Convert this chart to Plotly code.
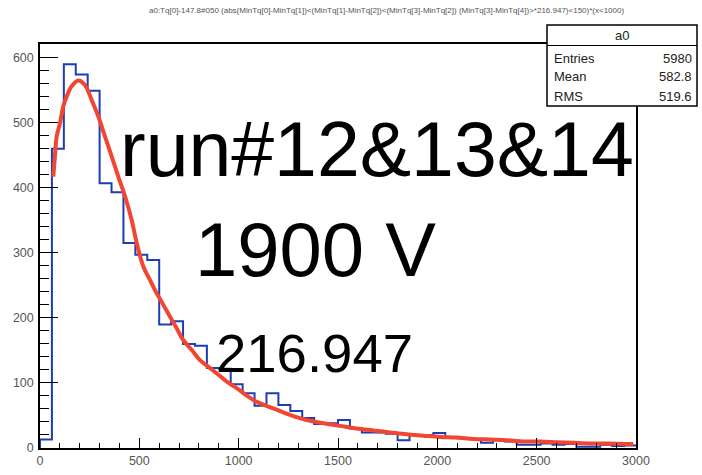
import plotly.graph_objects as go

# ---- data ----
bin_width = 60
bin_counts = [13, 460, 590, 574, 549, 407, 393, 315, 297, 289,
              190, 195, 160, 157, 123, 122, 98, 84, 65, 84,
              66, 57, 46, 37, 38, 43, 30, 24, 24, 22,
              12, 20, 20, 23, 17, 15, 14, 8, 12, 10,
              5, 5, 7, 5, 6, 2, 2, 5, 3, 4]

fit_x = [67, 75, 84, 101, 117, 134, 159, 193, 226, 260, 293, 327, 361, 394, 428,
         461, 487, 520, 554, 587, 621, 654, 688, 721, 763, 805, 847, 889, 940, 990,
         1048, 1091, 1174, 1258, 1342, 1426, 1510, 1594, 1677, 1761, 1845, 1929,
         2013, 2097, 2181, 2265, 2349, 2432, 2516, 2600, 2684, 2768, 2852, 2986]
fit_y = [417, 448, 479, 500, 525, 540, 556, 565, 558, 535, 510, 479, 448, 417, 387,
         351, 315, 279, 258, 238, 220, 202, 184, 166, 151, 135, 125, 115, 102, 92,
         79, 71, 61, 51, 43, 38, 34, 30, 27, 24, 21, 19,
         17, 16, 14, 13, 12, 10, 10, 9, 8, 7, 7, 6]

title_text = ("a0:Tq[0]-147.8#050 (abs(MinTq[0]-MinTq[1])<(MinTq[1]-MinTq[2])<(MinTq[3]-MinTq[2]) "
              "(MinTq[3]-MinTq[4])>*216.947)<150)*(x<1000)")
stats_name = "a0"
stats_labels = ["Entries", "Mean", "RMS"]
stats_values = ["5980", "582.8", "519.6"]
label_run = "run#12&13&14"
label_volt = "1900 V"
label_fit = "216.947"

x_range = [0, 3000]
y_range = [0, 621]

# ---- build step histogram ----
edges = [i * bin_width for i in range(len(bin_counts) + 1)]
hx = [0] + edges
hy = [0] + bin_counts + [bin_counts[-1]]

W, H = 702, 475
L, R, T, B = 40, 636, 44, 448


def px2paper_x(px):
    return (px - L) / (R - L)


def px2paper_y(py):
    return (B - py) / (B - T)


fig = go.Figure()
fig.add_trace(go.Scatter(x=hx, y=hy, mode="lines", line=dict(shape="hv", color="#1c3db5", width=2),
                         hoverinfo="skip", showlegend=False))
fig.add_trace(go.Scatter(x=fit_x, y=fit_y, mode="lines", line=dict(color="#f04632", width=4, shape="spline"),
                         hoverinfo="skip", showlegend=False))

font = "Liberation Sans, Arial, Helvetica, sans-serif"

fig.update_layout(
    width=W, height=H,
    margin=dict(l=L, r=W - R, t=T, b=H - B, autoexpand=False),
    paper_bgcolor="white", plot_bgcolor="white",
    font=dict(family=font, color="#222"),
    showlegend=False,
    xaxis=dict(range=x_range, showgrid=False, zeroline=False, showline=True, linecolor="black",
               linewidth=1.5, mirror=True, ticks="inside", ticklen=10, tickcolor="black",
               tickwidth=1.2, dtick=500, tick0=0, tickfont=dict(size=12.5, color="#555"),
               automargin=False,
               minor=dict(ticks="inside", dtick=100, ticklen=5, tickcolor="black", tickwidth=1)),
    yaxis=dict(range=y_range, showgrid=False, zeroline=False, showline=True, linecolor="black",
               linewidth=1.5, mirror=True, ticks="inside", ticklen=18, tickcolor="black",
               tickwidth=1.2, dtick=100, tick0=0, tickfont=dict(size=12.5, color="#555"),
               automargin=False, ticklabelstandoff=2,
               minor=dict(ticks="inside", dtick=20, ticklen=9, tickcolor="black", tickwidth=1)),
)

annotations = []
annotations.append(dict(text=title_text, xref="paper", yref="paper",
                        x=px2paper_x(386), y=px2paper_y(11), xanchor="center", yanchor="middle",
                        showarrow=False, font=dict(size=8, color="#555", family=font)))
annotations.append(dict(text=label_run, xref="paper", yref="paper",
                        x=px2paper_x(118), y=px2paper_y(149), xanchor="left", yanchor="middle",
                        showarrow=False, font=dict(size=77, color="black", family=font)))
annotations.append(dict(text=label_volt, xref="paper", yref="paper",
                        x=px2paper_x(193), y=px2paper_y(249), xanchor="left", yanchor="middle",
                        showarrow=False, font=dict(size=76, color="black", family=font)))
annotations.append(dict(text=label_fit, xref="paper", yref="paper",
                        x=px2paper_x(214), y=px2paper_y(353), xanchor="left", yanchor="middle",
                        showarrow=False, font=dict(size=54.5, color="black", family=font)))

# stats box
bx0, bx1, by0, by1, bh = 547, 697, 25, 106, 45.5
shapes = [
    dict(type="rect", xref="paper", yref="paper", x0=px2paper_x(bx0), x1=px2paper_x(bx1),
         y0=px2paper_y(by1), y1=px2paper_y(by0), fillcolor="white", line=dict(color="black", width=1.5),
         layer="above"),
    dict(type="line", xref="paper", yref="paper", x0=px2paper_x(bx0), x1=px2paper_x(bx1),
         y0=px2paper_y(bh), y1=px2paper_y(bh), line=dict(color="black", width=1.2), layer="above"),
]
annotations.append(dict(text=stats_name, xref="paper", yref="paper",
                        x=px2paper_x((bx0 + bx1) / 2), y=px2paper_y(36), xanchor="center", yanchor="middle",
                        showarrow=False, font=dict(size=13, color="#222", family=font)))
row_y = [58, 77, 96]
for lab, val, ry in zip(stats_labels, stats_values, row_y):
    annotations.append(dict(text=lab, xref="paper", yref="paper", x=px2paper_x(bx0 + 5), y=px2paper_y(ry),
                            xanchor="left", yanchor="middle", showarrow=False,
                            font=dict(size=13, color="#222", family=font)))
    annotations.append(dict(text=val, xref="paper", yref="paper", x=px2paper_x(bx1 - 3), y=px2paper_y(ry),
                            xanchor="right", yanchor="middle", showarrow=False,
                            font=dict(size=13, color="#222", family=font)))

fig.update_layout(annotations=annotations, shapes=shapes)
fig.write_html("out.html", config={"displayModeBar": False},
               post_script="document.body.style.margin='0px';")
